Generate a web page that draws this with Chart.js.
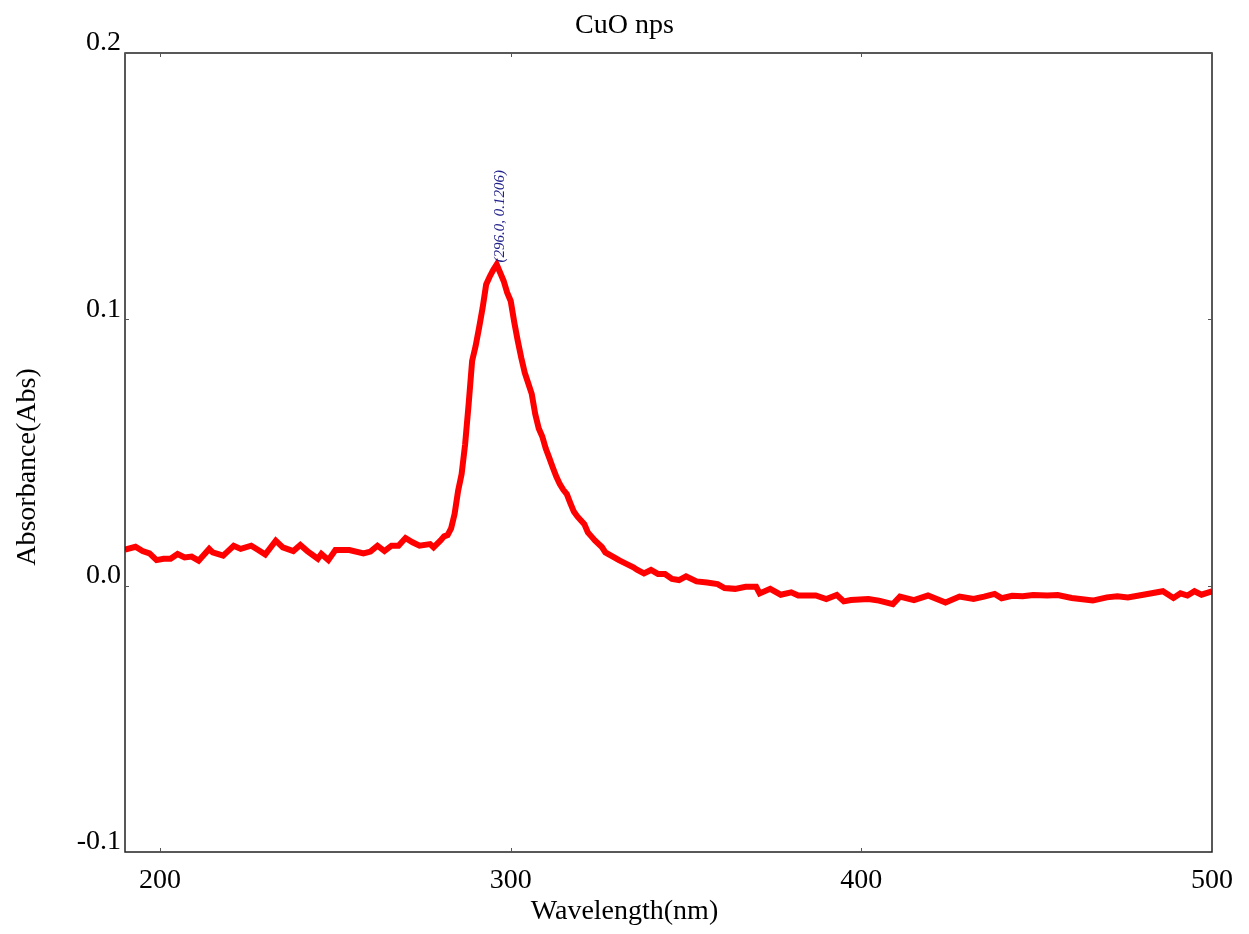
<!DOCTYPE html>
<html>
<head>
<meta charset="utf-8">
<script src="https://cdn.jsdelivr.net/npm/chart.js@4.4.0/dist/chart.umd.min.js"></script>
<style>
  html, body { margin: 0; padding: 0; background: #fff; }
  canvas { display: block; }
</style>
</head>
<body>
<canvas id="myChart" width="1249" height="934"></canvas>
<script>
// spectrum
const wavelengths = [
  190, 193, 195, 197, 199, 201, 203, 205, 207, 209, 211, 214, 215, 218, 219, 221, 223, 226, 228, 230,
  233, 235, 238, 240, 242, 245, 246, 248, 250, 254, 258, 260, 262, 264, 266, 268, 270, 272, 274, 277,
  278, 280, 281, 282, 283, 284, 285, 286, 287, 288, 289, 290, 291, 292, 293, 294, 295, 296, 297, 298,
  299, 300, 301, 302, 303, 304, 305, 306, 307, 308, 309, 310, 311, 312, 313, 314, 315, 316, 317, 318,
  319, 321, 322, 323, 324, 326, 327, 329, 331, 333, 335, 336, 338, 340, 342, 344, 346, 348, 350, 353,
  356, 359, 361, 364, 367, 370, 371, 374, 377, 380, 382, 385, 387, 390, 393, 395, 397, 402, 405, 409,
  411, 415, 419, 424, 428, 432, 435, 438, 440, 443, 446, 449, 453, 456, 460, 466, 470, 473, 476, 480,
  486, 489, 491, 493, 495, 497, 500
];
const absorbance = [
  0.0135, 0.0146, 0.0130, 0.0121, 0.0096, 0.0101, 0.0101, 0.0119, 0.0106, 0.0109, 0.0094, 0.0138, 0.0125, 0.0113, 0.0125, 0.0150, 0.0138, 0.0150, 0.0134, 0.0117,
  0.0169, 0.0144, 0.0130, 0.0153, 0.0130, 0.0101, 0.0119, 0.0096, 0.0134, 0.0134, 0.0121, 0.0128, 0.0150, 0.0130, 0.0150, 0.0150, 0.0179, 0.0163, 0.0150, 0.0156,
  0.0144, 0.0170, 0.0185, 0.0190, 0.0215, 0.0269, 0.0356, 0.0419, 0.0531, 0.0681, 0.0844, 0.0900, 0.0970, 0.1044, 0.1131, 0.1160, 0.1185, 0.1206, 0.1175, 0.1144,
  0.1100, 0.1069, 0.0990, 0.0920, 0.0856, 0.0800, 0.0760, 0.0720, 0.0644, 0.0590, 0.0560, 0.0515, 0.0480, 0.0444, 0.0410, 0.0381, 0.0360, 0.0344, 0.0310, 0.0278,
  0.0260, 0.0231, 0.0200, 0.0185, 0.0170, 0.0145, 0.0125, 0.0110, 0.0095, 0.0082, 0.0069, 0.0060, 0.0046, 0.0059, 0.0044, 0.0044, 0.0025, 0.0021, 0.0035, 0.0016,
  0.0012, 0.0006, -0.0009, -0.0012, -0.0004, -0.0004, -0.0029, -0.0012, -0.0034, -0.0025, -0.0037, -0.0037, -0.0037, -0.0050, -0.0035, -0.0059, -0.0054, -0.0050, -0.0056, -0.0069,
  -0.0041, -0.0054, -0.0037, -0.0063, -0.0041, -0.0050, -0.0041, -0.0031, -0.0047, -0.0038, -0.0040, -0.0035, -0.0037, -0.0035, -0.0046, -0.0056, -0.0044, -0.0040, -0.0044, -0.0035,
  -0.0021, -0.0046, -0.0029, -0.0037, -0.0021, -0.0034, -0.0021
];
const xTicks = [200, 300, 400, 500];
const yTicks = [-0.1, 0.0, 0.1, 0.2];
const peak = { x: 296.0, y: 0.1206 };

const serif = '"Liberation Serif", "Times New Roman", serif';

// frame, inward tick marks, title, axis labels and the peak note
const decorations = {
  id: 'decorations',
  afterDraw(chart) {
    const { ctx, chartArea: a, scales } = chart;
    const W = chart.width, H = chart.height;
    ctx.save();

    ctx.strokeStyle = '#222';
    ctx.lineWidth = 1.5;
    ctx.strokeRect(a.left, a.top, a.right - a.left, a.bottom - a.top);

    ctx.strokeStyle = '#555';
    ctx.lineWidth = 1;
    ctx.beginPath();
    xTicks.forEach(v => {
      const px = Math.round(scales.x.getPixelForValue(v)) + 0.5;
      ctx.moveTo(px, a.top); ctx.lineTo(px, a.top + 4);
      ctx.moveTo(px, a.bottom); ctx.lineTo(px, a.bottom - 4);
    });
    yTicks.forEach(v => {
      const py = Math.round(scales.y.getPixelForValue(v)) + 0.5;
      ctx.moveTo(a.left, py); ctx.lineTo(a.left + 4, py);
      ctx.moveTo(a.right, py); ctx.lineTo(a.right - 4, py);
    });
    ctx.stroke();

    ctx.fillStyle = '#000';
    ctx.font = '28px ' + serif;
    ctx.textAlign = 'center';
    ctx.textBaseline = 'middle';
    ctx.fillText('CuO nps', W / 2, 26);
    ctx.fillText('Wavelength(nm)', W / 2, 912);
    ctx.save();
    ctx.translate(28, H / 2);
    ctx.rotate(-Math.PI / 2);
    ctx.fillText('Absorbance(Abs)', 0, 0);
    ctx.restore();

    // peak label
    const px = scales.x.getPixelForValue(peak.x);
    const py = scales.y.getPixelForValue(peak.y);
    ctx.save();
    ctx.translate(px + 7, py - 2);
    ctx.rotate(-Math.PI / 2);
    ctx.fillStyle = '#20208c';
    ctx.font = 'italic 15px ' + serif;
    ctx.textAlign = 'left';
    ctx.textBaseline = 'alphabetic';
    ctx.fillText('(' + peak.x.toFixed(1) + ', ' + peak.y.toFixed(4) + ')', 0, 0);
    ctx.restore();

    ctx.restore();
  }
};

const ctx = document.getElementById('myChart').getContext('2d');
new Chart(ctx, {
  type: 'line',
  data: {
    datasets: [{
      label: 'CuO nps',
      data: wavelengths.map((w, i) => ({ x: w, y: absorbance[i] })),
      borderColor: '#ff0000',
      borderWidth: 6,
      pointRadius: 0,
      tension: 0,
      fill: false
    }]
  },
  options: {
    responsive: false,
    animation: false,
    layout: { padding: { top: 53, right: 37, left: 0, bottom: 0 } },
    plugins: {
      legend: { display: false },
      title: { display: false },
      tooltip: { enabled: false }
    },
    scales: {
      x: {
        type: 'linear',
        min: 190,
        max: 500,
        afterBuildTicks: s => { s.ticks = xTicks.map(v => ({ value: v })); },
        afterFit: s => { s.height = 82; },
        grid: { display: false, drawTicks: false },
        border: { display: false },
        ticks: {
          color: '#000',
          font: { family: serif, size: 28 },
          padding: 12,
          maxRotation: 0
        }
      },
      y: {
        type: 'linear',
        min: -0.1,
        max: 0.2,
        afterBuildTicks: s => { s.ticks = yTicks.map(v => ({ value: v })); },
        afterFit: s => { s.width = 125; },
        grid: { display: false, drawTicks: false },
        border: { display: false },
        ticks: {
          color: '#000',
          font: { family: serif, size: 28 },
          padding: 4,
          labelOffset: -10,
          callback: v => v.toFixed(1)
        }
      }
    }
  },
  plugins: [decorations]
});
</script>
</body>
</html>
